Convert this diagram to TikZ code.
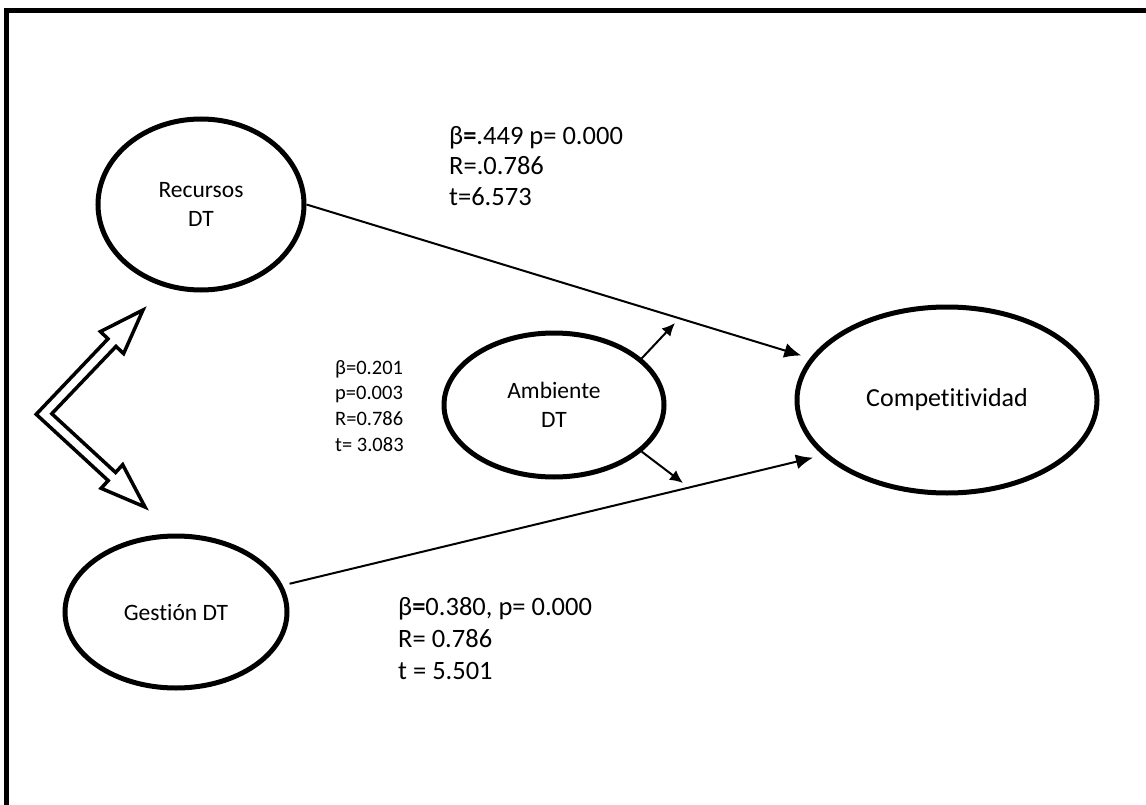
\documentclass[tikz,border=0pt]{standalone}
\usepackage{fontspec}
\setmainfont{Carlito}[Ligatures=NoCommon]
\usetikzlibrary{shapes.geometric,arrows.meta,positioning,calc}
\tikzset{
    latent/.style = {draw, ellipse, line width=5pt, inner sep=0pt, align=center, font=\fontsize{23.5}{29}\selectfont},
    link/.style = {line width=2pt, -{Latex[length=17pt,width=15pt]}},
    effect/.style = {line width=2pt, -{Latex[length=13pt,width=12pt]}},
    coef/.style = {align=left, anchor=north west, inner sep=0pt, font=\fontsize{26.5}{30.5}\selectfont},
    coefsmall/.style = {coef, font=\fontsize{20.5}{25.7}\selectfont},
    dblarrow/.style = {line width=3.5pt, line join=miter},
    outerframe/.style = {line width=5pt, line join=miter}
}

\begin{document}
\begin{tikzpicture}[x=1pt, y=-1pt, >=Latex]
    \useasboundingbox (0,0) rectangle (1146,805);
    \draw [outerframe] (6.5,830) -- (6.5,10.5) -- (1170,10.5);

    \node [latent, minimum width=206pt, minimum height=171pt]  (recursos) at (201,204.5) {Recursos\\DT};
    \node [latent, minimum width=222pt, minimum height=152pt]  (gestion)  at (176,612)   {Gestión DT};
    \node [latent, minimum width=220pt, minimum height=144pt]  (ambiente) at (554,405)   {Ambiente\\DT};
    \node [latent, minimum width=300pt, minimum height=186pt, font=\fontsize{26}{31}\selectfont] (compet) at (947,400) {Competitividad};
    \coordinate (ambup)   at (675,323);
    \coordinate (ambdown) at (683,483);

    \node [coef]      (lblrec) at (449,126) {β\textbf{=}.449 p= 0.000\\R=.0.786\\t=6.573};
    \node [coefsmall] (lblamb) at (335,360) {β=0.201\\p=0.003\\R=0.786\\t= 3.083};
    \node [coef, font=\fontsize{26.5}{32}\selectfont] (lblges) at (398,597) {β\textbf{=}0.380, p= 0.000\\R= 0.786\\t = 5.501};

    % double arrow between Recursos and Gestion
    \draw [dblarrow] (36.2,414.3) -- (108.0,338.8) -- (100.4,331.6) -- (143,310) -- (123.6,353.6) -- (116.0,346.4)
        -- (51.8,413.7) -- (115.6,472.5) -- (122.7,464.7) -- (145,507) -- (101.1,488.3) -- (108.2,480.6) -- cycle;

    \draw [link, shorten >=9pt] (recursos.east) -- (compet);
    \draw [link, shorten <=7pt, shorten >=10pt] (gestion.14) -- (compet.204);
    \draw [effect] (ambiente.28) -- (ambup);
    \draw [effect] (ambiente.-28) -- (ambdown);
\end{tikzpicture}
\end{document}
